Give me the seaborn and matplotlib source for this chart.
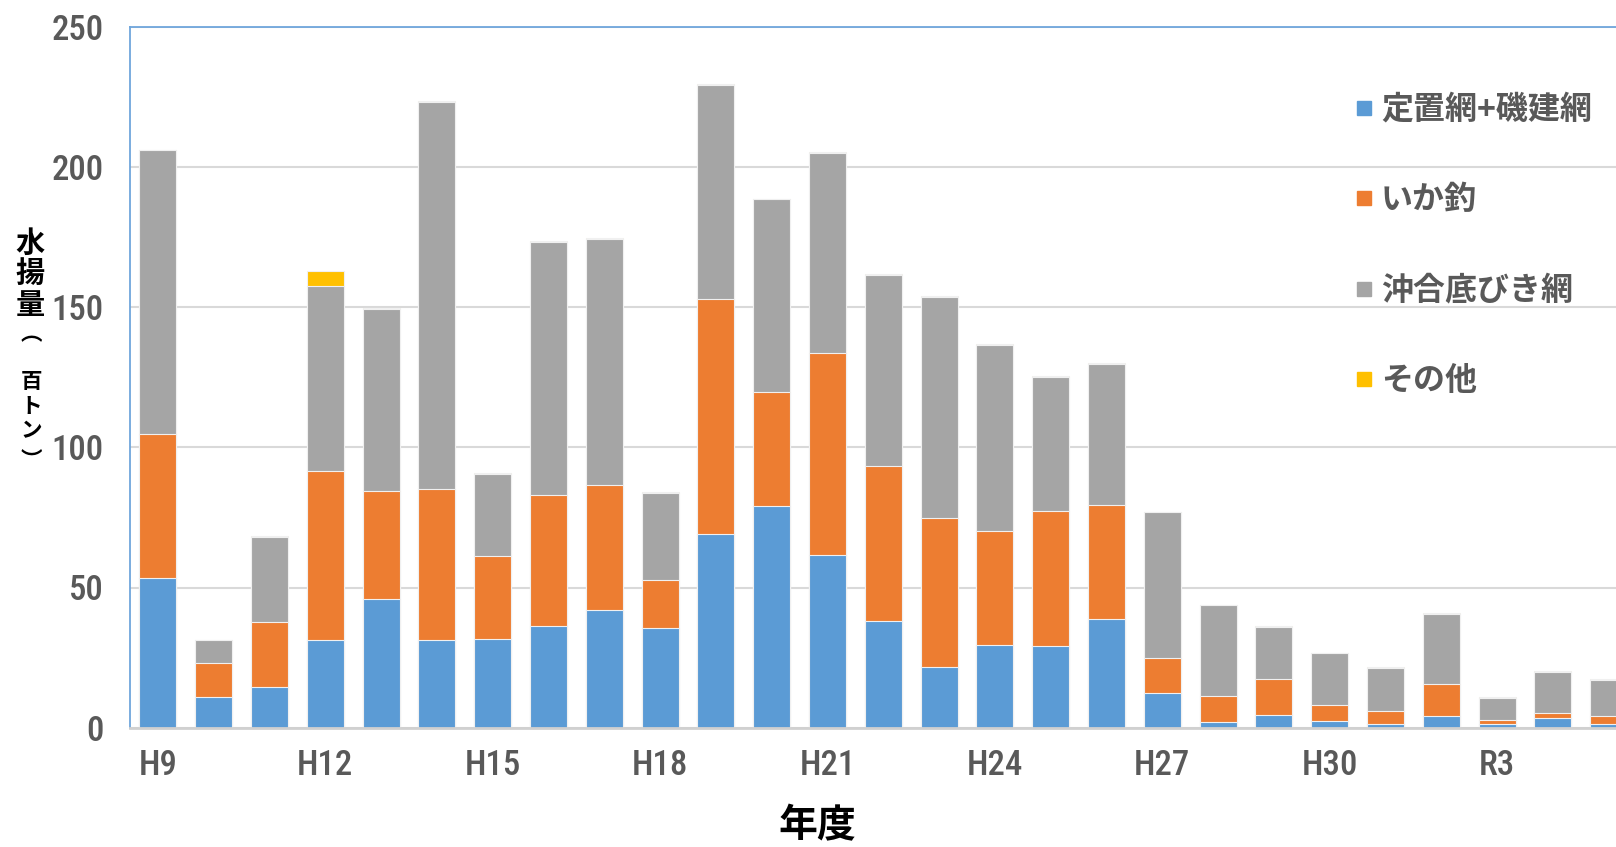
import matplotlib
matplotlib.use("Agg")
import matplotlib.pyplot as plt
from matplotlib import font_manager as fm
from matplotlib.lines import Line2D
import numpy as np
import pandas as pd
import seaborn as sns

# 年度別・漁業種類別の水揚量（百トン）
years = ["H9", "H10", "H11", "H12", "H13", "H14", "H15", "H16", "H17", "H18",
         "H19", "H20", "H21", "H22", "H23", "H24", "H25", "H26", "H27", "H28",
         "H29", "H30", "R1", "R2", "R3", "R4", "R5"]
teichi = [53.5, 11.1, 14.4, 31.4, 45.9, 31.1, 31.5, 36.3, 42.0, 35.7,
          69.1, 79.0, 61.7, 38.2, 21.6, 29.5, 29.2, 38.8, 12.3, 2.0,
          4.5, 2.5, 1.3, 4.2, 1.3, 3.5, 1.3]
ika = [51.3, 12.1, 23.3, 60.3, 38.5, 54.1, 29.9, 46.7, 44.6, 17.0,
       83.8, 40.9, 72.0, 55.2, 53.1, 40.7, 48.2, 40.5, 12.4, 9.3,
       12.9, 5.5, 4.7, 11.4, 1.3, 1.9, 2.9]
okiai = [101.1, 7.9, 30.3, 65.9, 65.1, 138.0, 29.2, 90.3, 87.7, 31.1,
         76.3, 68.5, 71.2, 68.1, 78.9, 66.3, 47.6, 50.4, 52.1, 32.5,
         18.6, 18.7, 15.4, 25.0, 8.0, 14.5, 12.8]
sonota = [0.3, 0.2, 0.3, 5.3, 0.3, 0.3, 0.3, 0.3, 0.3, 0.3,
          0.3, 0.3, 0.3, 0.3, 0.3, 0.3, 0.3, 0.3, 0.3, 0.1,
          0.3, 0.1, 0.1, 0.3, 0.3, 0.3, 0.3]

series_names = ["定置網+磯建網", "いか釣", "沖合底びき網", "その他"]
series_colors = ["#5B9BD5", "#ED7D31", "#A5A5A5", "#FFC000"]
y_ticks = [0, 50, 100, 150, 200, 250]
tick_years = years[::3]

sns.set_theme(style="white")
plt.rcParams["font.family"] = ["Noto Sans CJK JP", "DejaVu Sans"]

installed = {f.name for f in fm.fontManager.ttflist}
narrow = next((n for n in ["Liberation Sans Narrow", "DejaVu Sans Condensed",
                           "Roboto Condensed", "Open Sans Condensed"]
               if n in installed), "Roboto")

df = pd.DataFrame({"年度": years, "s0": teichi, "s1": ika, "s2": okiai, "s3": sonota})
cum = df[["s0", "s1", "s2", "s3"]].cumsum(axis=1)
for i in range(4):
    df[f"c{i}"] = cum[f"s{i}"]

W, H = 1616, 847
fig = plt.figure(figsize=(W / 100, H / 100), dpi=100)
ax_left, ax_top, ax_bottom = 130, 26.7, 727.7
ax = fig.add_axes([ax_left / W, 1 - ax_bottom / H, 1 - ax_left / W, (ax_bottom - ax_top) / H])

# stacked bars: draw cumulative totals from the top layer down
for i in [3, 2, 1, 0]:
    sns.barplot(data=df, x="年度", y=f"c{i}", order=years, color=series_colors[i],
                saturation=1, width=0.663, errorbar=None, edgecolor="#f0f0f0",
                linewidth=0.8, ax=ax)

ax.set_xlim(-0.5, 26.13)
ax.set_ylim(0, 250)
ax.set_xlabel("")
ax.set_ylabel("")

tick_font = {"family": narrow, "size": 25, "weight": 500}
ax.set_yticks(y_ticks)
ax.set_yticklabels([str(v) for v in y_ticks], fontdict=tick_font, color="#595959")
tick_pos = [years.index(t) for t in tick_years]
ax.set_xticks(tick_pos)
ax.set_xticklabels(tick_years, fontdict=tick_font, color="#595959")
ax.tick_params(axis="both", length=0)
ax.tick_params(axis="y", pad=19)
ax.tick_params(axis="x", pad=15)

ax.yaxis.grid(True, color="#d9d9d9", linewidth=1.5)
ax.set_axisbelow(True)

for side in ["left", "top"]:
    ax.spines[side].set_visible(True)
    ax.spines[side].set_color("#6FA6DC")
    ax.spines[side].set_linewidth(1.3)
ax.spines["right"].set_visible(False)
ax.spines["bottom"].set_color("#d0d0d0")
ax.spines["bottom"].set_linewidth(2.0)

handles = [Line2D([], [], marker="s", linestyle="none", markersize=10.5,
                  markerfacecolor=c, markeredgecolor=c) for c in series_colors]
leg = fig.legend(handles, series_names, loc="upper left",
                 bbox_to_anchor=(1337 / W, 1 - 78 / H), bbox_transform=fig.transFigure,
                 frameon=False, borderpad=0, handlelength=0.7, handletextpad=0.18,
                 labelspacing=1.83,
                 prop={"family": ["Noto Sans CJK JP", "DejaVu Sans"], "size": 23, "weight": "bold"})
for t in leg.get_texts():
    t.set_color("#595959")

# vertical y-axis title
big = [("水", 243), ("揚", 273), ("量", 305)]
small = [("︵", 334), ("百", 381), ("ト", 406), ("ン", 431), ("︶", 461)]
for ch, y in big:
    fig.text(30 / W, 1 - y / H, ch, ha="center", va="center", fontsize=21,
             fontweight="bold", color="black")
for ch, y in small:
    fig.text(31 / W, 1 - y / H, ch, ha="center", va="center", fontsize=15.5,
             fontweight="bold", color="black")

fig.text(817 / W, 1 - 826 / H, "年度", ha="center", va="center", fontsize=28,
         fontweight="bold", color="black")

fig.savefig("out.png", dpi=100, facecolor="white")
